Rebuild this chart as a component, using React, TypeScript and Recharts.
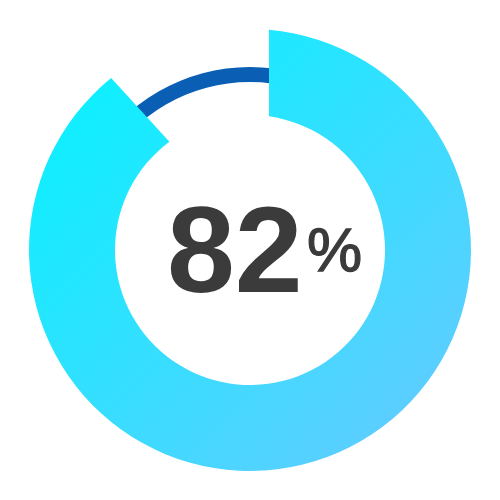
import React from 'react';
import { PieChart, Pie, Cell } from 'recharts';

// ---- data ----
const trackNames = ['track'];
const trackValues = [100];
const arcNames = ['progress', 'rest'];
const arcValues = [88.2, 11.8];
const displayValue = 82;
const displayUnit = '%';

const trackData = trackNames.map((name, i) => ({ name, value: trackValues[i] }));
const arcData = arcNames.map((name, i) => ({ name, value: arcValues[i] }));

// ---- style ----
const TRACK_COLOR = '#0a5fb4';
const TEXT_COLOR = '#3b3b3b';
const GRAD_FROM = '#00f5ff';
const GRAD_TO = '#6ac8ff';
const START_OFFSET = 19;
const END_OFFSET = 13.7;
const FONT = "'Liberation Sans', Arial, Helvetica, sans-serif";

function pt(cx: number, cy: number, r: number, phiDeg: number): [number, number] {
  const p = (phiDeg * Math.PI) / 180;
  return [cx + r * Math.sin(p), cy - r * Math.cos(p)];
}

const deg = (x: number) => (Math.asin(x) * 180) / Math.PI;

function ProgressArc(props: any) {
  const { cx, cy, innerRadius, outerRadius, startAngle, endAngle, index } = props;
  if (index !== 0) return null;
  const phi0 = 90 - startAngle;
  const phi1 = 90 - endAngle;
  const o0 = phi0 + deg(START_OFFSET / outerRadius);
  const o1 = phi1 + deg(END_OFFSET / outerRadius);
  const i0 = phi0 + deg(START_OFFSET / innerRadius);
  const i1 = phi1 + deg(END_OFFSET / innerRadius);
  const [ax, ay] = pt(cx, cy, outerRadius, o0);
  const [bx, by] = pt(cx, cy, outerRadius, o1);
  const [ex, ey] = pt(cx, cy, innerRadius, i1);
  const [fx, fy] = pt(cx, cy, innerRadius, i0);
  const largeO = o1 - o0 > 180 ? 1 : 0;
  const largeI = i1 - i0 > 180 ? 1 : 0;
  const d = `M${ax},${ay} A${outerRadius},${outerRadius} 0 ${largeO} 1 ${bx},${by} L${ex},${ey} A${innerRadius},${innerRadius} 0 ${largeI} 0 ${fx},${fy} Z`;
  return (
    <g>
      <defs>
        <linearGradient
          id="progressGrad"
          gradientUnits="userSpaceOnUse"
          x1={cx - outerRadius}
          y1={cy - outerRadius}
          x2={cx + outerRadius}
          y2={cy + outerRadius}
        >
          <stop offset="0%" stopColor={GRAD_FROM} />
          <stop offset="100%" stopColor={GRAD_TO} />
        </linearGradient>
      </defs>
      <path d={d} fill="url(#progressGrad)" stroke="none" />
      <text
        x={cx - 83}
        y={cy + 42}
        fontFamily={FONT}
        fontWeight="bold"
        fontSize={122}
        fill={TEXT_COLOR}
        textAnchor="start"
      >
        {displayValue}
      </text>
      <text
        x={cx + 57}
        y={cy + 21}
        fontFamily={FONT}
        fontWeight="normal"
        fontSize={62}
        stroke={TEXT_COLOR}
        strokeWidth={1.3}
        fill={TEXT_COLOR}
        textAnchor="start"
      >
        {displayUnit}
      </text>
    </g>
  );
}

export default function App() {
  return (
    <div style={{ position: 'absolute', left: 0, top: 0, width: 500, height: 500, background: '#fff' }}>
      <PieChart width={500} height={500} margin={{ top: 0, right: 0, bottom: 0, left: 0 }}>
        <Pie
          data={trackData}
          dataKey="value"
          cx="50%"
          cy="50%"
          innerRadius={168}
          outerRadius={183}
          startAngle={90}
          endAngle={-270}
          fill={TRACK_COLOR}
          stroke="none"
          isAnimationActive={false}
        />
        <Pie
          data={arcData}
          dataKey="value"
          cx="50%"
          cy="50%"
          innerRadius={135}
          outerRadius={221}
          startAngle={90}
          endAngle={-270}
          stroke="none"
          label={ProgressArc}
          labelLine={false}
          isAnimationActive={false}
        >
          {arcData.map((d) => (
            <Cell key={d.name} fill="transparent" stroke="none" />
          ))}
        </Pie>
      </PieChart>
    </div>
  );
}
